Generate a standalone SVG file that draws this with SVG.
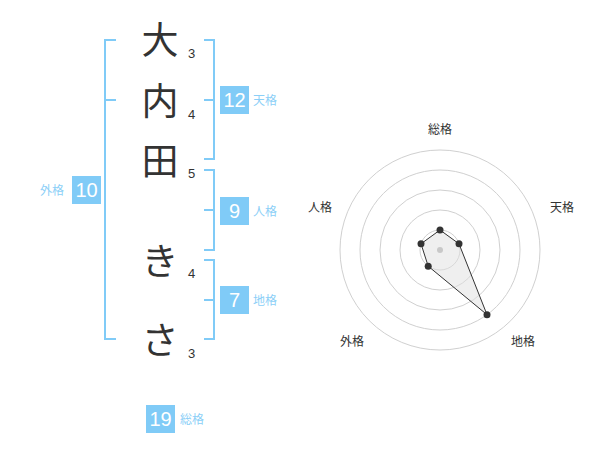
<svg xmlns="http://www.w3.org/2000/svg" width="600" height="470" viewBox="0 0 600 470">
<style>
.ch{font-family:"Noto Sans CJK JP","Noto Sans",sans-serif;font-size:37px;fill:#333;text-anchor:middle}
.num{font-family:"Liberation Sans",Arial,sans-serif;font-size:13px;fill:#333}
.br{fill:none;stroke:#80cbf7;stroke-width:2}
.box{fill:#80cbf7}
.bn{font-family:"Liberation Sans",Arial,sans-serif;font-size:20px;fill:#fff;text-anchor:middle}
.lb{font-family:"Noto Sans CJK JP","Noto Sans",sans-serif;font-size:12px;fill:#8ccff7}
.rl{font-family:"Noto Sans CJK JP","Noto Sans",sans-serif;font-size:12px;fill:#333;text-anchor:middle}
.ring{fill:none;stroke:#d0d0d0;stroke-width:1}
.pt{fill:#333}
</style>
<rect width="600" height="470" fill="#fff"/>
<g id="chars">
<text class="ch" x="160" y="54">大</text>
<text class="ch" x="160" y="115">内</text>
<text class="ch" x="160" y="175">田</text>
<text class="ch" x="160" y="275">き</text>
<text class="ch" x="160" y="354">さ</text>
<text class="num" x="188" y="58">3</text>
<text class="num" x="188" y="119">4</text>
<text class="num" x="188" y="178">5</text>
<text class="num" x="188" y="278">4</text>
<text class="num" x="188" y="358">3</text>
</g>
<g id="connectors">
<path class="br" d="M116,40 H105 V339 H116 M105,100 H116"/>
<path class="br" d="M204,40 H214 V159 H204 M204,100 H214"/>
<path class="br" d="M204,170 H214 V250 H204 M204,210 H214"/>
<path class="br" d="M204,260 H214 V339 H204 M204,300 H214"/>
</g>
<g id="tenkaku">
<rect class="box" x="220" y="86" width="29" height="28"/>
<text class="bn" x="234.5" y="107">12</text>
<text class="lb" x="253" y="105">天格</text>
</g>
<g id="jinkaku">
<rect class="box" x="220" y="197" width="29" height="28"/>
<text class="bn" x="234.5" y="218">9</text>
<text class="lb" x="253" y="216">人格</text>
</g>
<g id="chikaku">
<rect class="box" x="220" y="286" width="29" height="28"/>
<text class="bn" x="234.5" y="307">7</text>
<text class="lb" x="253" y="305">地格</text>
</g>
<g id="gaikaku">
<rect class="box" x="72" y="176" width="29" height="28"/>
<text class="bn" x="86.5" y="197">10</text>
<text class="lb" x="40" y="195">外格</text>
</g>
<g id="soukaku">
<rect class="box" x="146" y="405" width="29" height="28"/>
<text class="bn" x="160.5" y="426">19</text>
<text class="lb" x="180" y="424">総格</text>
</g>
<g id="radar">
<circle class="ring" cx="440" cy="250" r="20"/>
<circle class="ring" cx="440" cy="250" r="40"/>
<circle class="ring" cx="440" cy="250" r="60"/>
<circle class="ring" cx="440" cy="250" r="80"/>
<circle class="ring" cx="440" cy="250" r="100"/>
<polygon points="440,230 459,243.8 487,314.7 428.2,266.2 421,243.8" fill="#e0e0e0" fill-opacity="0.5" stroke="#333" stroke-width="1"/>
<circle cx="440" cy="250" r="3" fill="#c8c8c8"/>
<circle class="pt" cx="440" cy="230" r="3.5"/>
<circle class="pt" cx="459" cy="243.8" r="3.5"/>
<circle class="pt" cx="487" cy="314.7" r="3.5"/>
<circle class="pt" cx="428.2" cy="266.2" r="3.5"/>
<circle class="pt" cx="421" cy="243.8" r="3.5"/>
<text class="rl" x="440" y="134">総格</text>
<text class="rl" x="562" y="212">天格</text>
<text class="rl" x="523" y="346">地格</text>
<text class="rl" x="352" y="346">外格</text>
<text class="rl" x="320" y="212">人格</text>
</g>
</svg>
